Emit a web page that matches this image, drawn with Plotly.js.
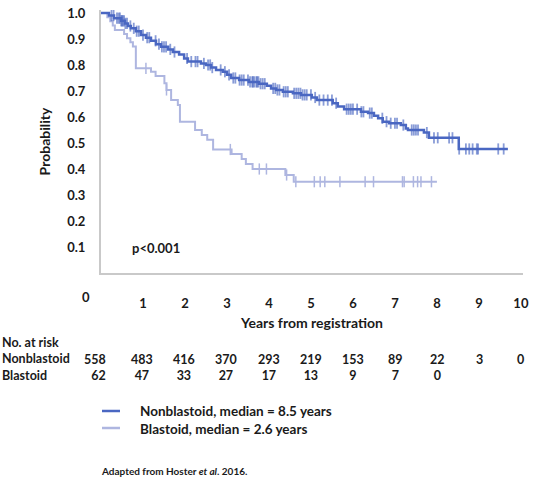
<!DOCTYPE html>
<html>
<head>
<meta charset="utf-8">
<script src="https://cdn.plot.ly/plotly-3.0.1.min.js"></script>
<style>html,body{margin:0;padding:0;background:#fff;}#chart{width:537px;height:484px;}</style>
</head>
<body>
<div id="chart"></div>
<script>
// ---- Data ----
const nbTimes = [0, 0.19, 0.31, 0.48, 0.57, 0.64, 0.71, 0.83, 0.95, 1.07, 1.19, 1.31, 1.43, 1.6, 1.71, 1.86, 1.98, 2.07, 2.38, 2.5, 2.62, 2.74, 2.9, 3.0, 3.1, 3.29, 3.52, 3.76, 3.95, 4.05, 4.17, 4.33, 4.57, 4.76, 5.02, 5.14, 5.52, 5.64, 5.79, 6.19, 6.36, 6.5, 6.6, 6.71, 6.86, 7.14, 7.26, 7.31, 7.69, 7.81, 8.52, 9.69];
const nbSurv = [1.0, 0.99, 0.98, 0.97, 0.96, 0.95, 0.941, 0.93, 0.915, 0.905, 0.893, 0.88, 0.87, 0.86, 0.85, 0.84, 0.825, 0.813, 0.806, 0.80, 0.79, 0.781, 0.774, 0.762, 0.75, 0.742, 0.735, 0.728, 0.72, 0.71, 0.704, 0.697, 0.691, 0.685, 0.675, 0.665, 0.653, 0.64, 0.63, 0.62, 0.615, 0.605, 0.595, 0.582, 0.576, 0.569, 0.556, 0.55, 0.54, 0.52, 0.477, 0.477];
const nbCensor = [0.25, 0.3, 0.38, 0.42, 0.45, 0.48, 0.5, 0.52, 0.55, 0.58, 0.62, 0.7, 0.78, 0.85, 0.9, 1.0, 1.1, 1.15, 1.3, 1.38, 1.45, 1.5, 1.55, 1.65, 1.75, 2.05, 2.15, 2.25, 2.3, 2.45, 2.55, 2.6, 2.65, 2.85, 2.95, 3.05, 3.15, 3.2, 3.3, 3.35, 3.4, 3.5, 3.55, 3.6, 3.62, 3.65, 3.7, 3.72, 3.75, 3.8, 3.85, 3.9, 4.1, 4.15, 4.2, 4.25, 4.35, 4.4, 4.45, 4.6, 4.65, 4.7, 4.75, 4.8, 4.85, 4.9, 5.0, 5.1, 5.2, 5.3, 5.4, 5.5, 5.6, 5.85, 5.9, 5.95, 6.0, 6.1, 6.2, 6.25, 6.4, 6.45, 6.7, 6.8, 6.9, 7.0, 7.05, 7.2, 7.4, 7.45, 7.5, 7.55, 7.76, 7.93, 8.02, 8.29, 8.37, 8.53, 8.69, 8.77, 8.85, 8.95, 8.98, 9.46, 9.59];

const blTimes = [0, 0.15, 0.22, 0.28, 0.33, 0.55, 0.62, 0.70, 0.76, 0.83, 1.19, 1.30, 1.51, 1.56, 1.67, 1.83, 1.88, 2.24, 2.40, 2.53, 2.67, 3.11, 3.35, 3.45, 3.61, 4.39, 4.59, 8.0];
const blSurv = [1.0, 0.984, 0.968, 0.952, 0.935, 0.919, 0.903, 0.887, 0.871, 0.787, 0.774, 0.758, 0.73, 0.704, 0.665, 0.646, 0.582, 0.55, 0.531, 0.512, 0.475, 0.458, 0.438, 0.419, 0.40, 0.377, 0.351, 0.351];
const blCensor = [1.07, 1.56, 3.08, 3.77, 3.94, 4.42, 4.64, 5.08, 5.22, 5.33, 5.69, 6.29, 6.49, 7.18, 7.22, 7.44, 7.54, 7.62, 7.87];

const xTickVals = [1, 2, 3, 4, 5, 6, 7, 8, 9, 10];
const yTickVals = [0.1, 0.2, 0.3, 0.4, 0.5, 0.6, 0.7, 0.8, 0.9, 1.0];
const riskCols = ['0', '1', '2', '3', '4', '5', '6', '7', '8', '9', '10'];
const riskNB = [558, 483, 416, 370, 293, 219, 153, 89, 22, 3, 0];
const riskBL = [62, 47, 33, 27, 17, 13, 9, 7, 0];
const groupNames = ['Nonblastoid', 'Blastoid'];
const legendTexts = ['Nonblastoid, median = 8.5 years', 'Blastoid, median = 2.6 years'];

// ---- Styling / helpers ----
const DARK = '#4a67c2';
const LIGHT = '#aeb6e0';
const TXT = '#1a1a1a';
const FONT = 'Lato, "Open Sans", sans-serif';
const L = 101, PW = 422, T = 10, PH = 263;
const px = v => (v - L) / PW;
const py = v => (T + PH - v) / PH;

function survAt(times, surv, t) {
  let s = surv[0];
  for (let i = 0; i < times.length; i++) { if (times[i] <= t) s = surv[i]; else break; }
  return s;
}

const traces = [
  {x: blTimes, y: blSurv, type: 'scatter', mode: 'lines', line: {shape: 'hv', color: LIGHT, width: 2}, name: groupNames[1], hoverinfo: 'skip'},
  {x: blCensor, y: blCensor.map(t => survAt(blTimes, blSurv, t)), type: 'scatter', mode: 'markers',
   marker: {symbol: 'line-ns-open', size: 8, color: LIGHT, line: {color: LIGHT, width: 1.5}}, name: groupNames[1] + ' censored', hoverinfo: 'skip'},
  {x: nbTimes, y: nbSurv, type: 'scatter', mode: 'lines', line: {shape: 'hv', color: DARK, width: 2.5}, name: groupNames[0], hoverinfo: 'skip'},
  {x: nbCensor, y: nbCensor.map(t => survAt(nbTimes, nbSurv, t)), type: 'scatter', mode: 'markers',
   marker: {symbol: 'line-ns-open', size: 8, color: 'rgba(74,103,194,0.65)', line: {color: 'rgba(74,103,194,0.65)', width: 1.8}}, name: groupNames[0] + ' censored', hoverinfo: 'skip'}
];

const ann = [];
const f13 = {family: FONT, size: 13, color: TXT, weight: 700};
const f14 = {family: FONT, size: 14, color: TXT, weight: 700};
const fTab = {family: FONT, size: 12.5, color: TXT, weight: 700};
const fLeg = {family: FONT, size: 13.5, color: TXT, weight: 700};
// x tick "0" (drawn left of the axis origin, as in the reference)
ann.push({xref: 'paper', yref: 'paper', x: px(86), y: py(297), text: riskCols[0], showarrow: false, xanchor: 'center', yanchor: 'middle', font: f13});
// p-value
ann.push({xref: 'paper', yref: 'paper', x: px(130), y: py(248), text: 'p<0.001', showarrow: false, xanchor: 'left', yanchor: 'middle', font: f13});
// number at risk table: row labels as one block
ann.push({xref: 'paper', yref: 'paper', x: px(0), y: py(359), text: ['No. at risk', groupNames[0], groupNames[1]].join('<br>'),
  showarrow: false, xanchor: 'left', yanchor: 'middle', align: 'left', font: fTab});
// number columns
const colX = [108, 142, 184, 226, 269, 311, 353, 395, 437, 479, 520];
riskNB.forEach((v, i) => {
  const hasBL = i < riskBL.length;
  ann.push({xref: 'paper', yref: 'paper', x: px(colX[i]),
    y: py(hasBL ? 367 : 359),
    text: hasBL ? (String(v) + '<br>' + String(riskBL[i])) : String(v),
    showarrow: false, xanchor: i === 0 ? 'right' : 'center', yanchor: 'middle', align: i === 0 ? 'right' : 'center', font: fTab});
});
// legend (one block, two lines)
ann.push({xref: 'paper', yref: 'paper', x: px(138), y: py(419.5), text: legendTexts.join('<br>'), showarrow: false, xanchor: 'left', yanchor: 'middle', align: 'left', font: fLeg});
// source
ann.push({xref: 'paper', yref: 'paper', x: px(99), y: py(471), text: 'Adapted from Hoster <i>et al</i>. 2016.', showarrow: false, xanchor: 'left', yanchor: 'middle', font: {family: FONT, size: 10, color: TXT, weight: 700}});

const shapes = [
  {type: 'line', xref: 'paper', yref: 'paper', x0: px(102), x1: px(120), y0: py(411), y1: py(411), line: {color: DARK, width: 2.5}},
  {type: 'line', xref: 'paper', yref: 'paper', x0: px(102), x1: px(120), y0: py(428), y1: py(428), line: {color: LIGHT, width: 2.5}}
];

const layout = {
  width: 537, height: 484,
  margin: {l: L, r: 537 - L - PW, t: T, b: 484 - T - PH},
  paper_bgcolor: '#ffffff', plot_bgcolor: '#ffffff',
  showlegend: false,
  font: {family: FONT, size: 13, color: TXT, weight: 700},
  xaxis: {
    range: [0, 10.05], showgrid: false, zeroline: false, showline: true, linecolor: '#c9c9c9', linewidth: 2,
    tickmode: 'array', tickvals: xTickVals, ticktext: xTickVals.map(String), ticks: '', ticklabelstandoff: 17,
    tickfont: f13,
    title: {text: 'Years from registration', font: f14, standoff: 9}
  },
  yaxis: {
    range: [0, 1.0115], showgrid: false, zeroline: false, showline: true, linecolor: '#c9c9c9', linewidth: 2,
    tickmode: 'array', tickvals: yTickVals, ticktext: yTickVals.map(v => v.toFixed(1)), ticks: '', ticklabelstandoff: 11,
    tickfont: f13,
    title: {text: 'Probability', font: f14, standoff: 13}
  },
  annotations: ann,
  shapes: shapes
};

Plotly.newPlot('chart', traces, layout, {displayModeBar: false, staticPlot: true});
</script>
</body>
</html>
